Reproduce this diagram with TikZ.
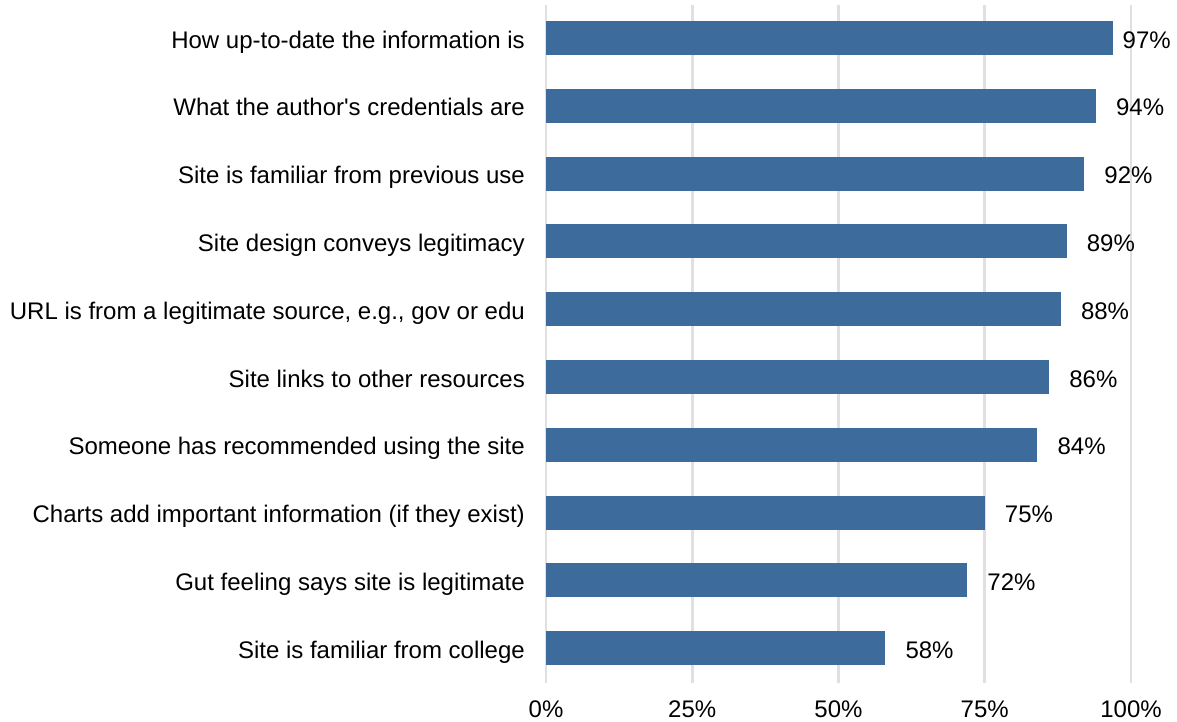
\documentclass[tikz,border=0pt]{standalone}
\usepackage{fontspec}
\setmainfont{Liberation Sans}
\definecolor{barblue}{HTML}{3D6C9C}
\definecolor{gridgray}{HTML}{E0E0E0}
\begin{document}
\begin{tikzpicture}[x=1pt,y=-1pt,
  lbl/.style={font=\fontsize{24}{24}\selectfont, inner sep=0pt},
  cat/.style={lbl, anchor=base east},
  val/.style={lbl, anchor=base west},
  bar/.style={fill=barblue, draw=none},
  grid/.style={draw=gridgray, line width=2.6pt}]
\useasboundingbox (0,0) rectangle (1177,721);
\fill[white] (0,0) rectangle (1177,721);
% gridlines
\foreach \p/\t in {0/0\%,25/25\%,50/50\%,75/75\%,100/100\%}{
  \coordinate (gt\p) at ({546+5.85*\p},5);
  \coordinate (gb\p) at ({546+5.85*\p},683);
  \draw[grid] (gt\p) -- (gb\p);
  \node[lbl, anchor=base] (ax\p) at ({546+5.85*\p},717) {\t};
}
% bars
\foreach \i/\v/\txt/\off in {
  0/97/How up-to-date the information is/9,
  1/94/What the author\textquotesingle s credentials are/20,
  2/92/Site is familiar from previous use/20,
  3/89/Site design conveys legitimacy/20,
  4/88/{URL is from a legitimate source, e.g., gov or edu}/20,
  5/86/Site links to other resources/20,
  6/84/Someone has recommended using the site/20,
  7/75/Charts add important information (if they exist)/20,
  8/72/Gut feeling says site is legitimate/20,
  9/58/Site is familiar from college/20}{
  \pgfmathsetmacro{\yc}{38+67.8*\i}
  \pgfmathsetmacro{\xe}{546+5.85*\v}
  \path[bar] (546,\yc-17) rectangle (\xe,\yc+17);
  \node[cat] (c\i) at (525,\yc+10) {\txt};
  \node[val] (v\i) at (\xe+\off,\yc+10) {\v\%};
}
\end{tikzpicture}
\end{document}
